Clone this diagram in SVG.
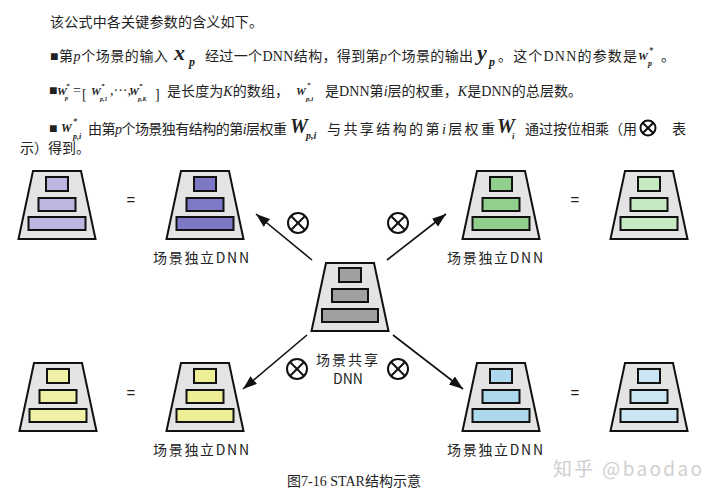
<svg xmlns="http://www.w3.org/2000/svg" width="720" height="497" viewBox="0 0 720 497">
<defs>
<style>
.t{font-family:"Liberation Serif","Noto Sans CJK SC",serif;font-size:14px;fill:#222}
.m{font-family:"Liberation Serif",serif;font-style:italic;font-weight:bold;fill:#222}
.lbl{font-family:"Noto Sans CJK SC","DejaVu Sans",sans-serif;font-size:14px;fill:#222}
.eq{font-family:"Liberation Sans",sans-serif;font-size:15px;fill:#222}
.trap{fill:#e4e4e4;stroke:#111;stroke-width:2;stroke-linejoin:miter}
.r{stroke:#111;stroke-width:2}
.p1{fill:#bcb6e0}.p2{fill:#7d79c6}
.g1{fill:#92cf8c}.g2{fill:#c6e8c2}
.y1{fill:#f1f1a6}.y2{fill:#eeee96}
.b1{fill:#acd9ee}.b2{fill:#c9e6f2}
.k{fill:#a0a0a0}
.arr{stroke:#111;stroke-width:1.6;fill:none;marker-end:url(#ah)}
.ot circle{fill:#fff;stroke:#111;stroke-width:2}
.ot line{stroke:#111;stroke-width:2}
</style>
<marker id="ah" markerUnits="userSpaceOnUse" markerWidth="16" markerHeight="12" refX="14" refY="5" orient="auto">
<path d="M0,0 L14,5 L0,10 Z" fill="#111"/>
</marker>
<path id="trapShape" d="M-24,0 L24,0 L38.5,68 L-38.5,68 Z"/>
</defs>

<!-- header text -->
<g id="text-block">
<text class="t" x="50" y="27" textLength="213" lengthAdjust="spacing">该公式中各关键参数的含义如下。</text>

<text class="t" x="50" y="61" textLength="118" lengthAdjust="spacing">■第<tspan font-style="italic">p</tspan>个场景的输入</text>
<text class="m" x="174" y="60" font-size="22">x</text>
<text class="m" x="189" y="66" font-size="12">p</text>
<text class="t" x="205" y="61" textLength="268" lengthAdjust="spacing">经过一个DNN结构，得到第<tspan font-style="italic">p</tspan>个场景的输出</text>
<text class="m" x="477" y="60" font-size="22">y</text>
<text class="m" x="489" y="66" font-size="12">p</text>
<text class="t" x="498" y="61" textLength="139" lengthAdjust="spacing">。这个DNN的参数是</text>
<text class="m" x="638" y="60" font-size="11">W</text>
<text class="m" x="649" y="53" font-size="8">*</text>
<text class="m" x="648" y="66" font-size="8">p</text>
<text class="t" x="661" y="61">。</text>

<text class="t" x="49" y="95" font-size="7">■</text>
<text class="m" x="57" y="95" font-size="11">W</text>
<text class="m" x="66" y="88" font-size="7">*</text>
<text class="m" x="65" y="100" font-size="6">p</text>
<text class="t" x="73" y="95" font-size="11">=</text>
<text class="t" x="82" y="99" font-size="19">[</text>
<text class="m" x="91" y="95" font-size="11">W</text>
<text class="m" x="101" y="88" font-size="7">*</text>
<text class="m" x="100" y="101" font-size="6">p,1</text>
<text class="t" x="110" y="95" font-size="11">,···,</text>
<text class="m" x="129" y="95" font-size="11">W</text>
<text class="m" x="139" y="88" font-size="7">*</text>
<text class="m" x="138" y="101" font-size="6">p,K</text>
<text class="t" x="155" y="99" font-size="19">]</text>
<text class="t" x="167" y="96" textLength="122" lengthAdjust="spacing">是长度为<tspan font-style="italic">K</tspan>的数组，</text>
<text class="m" x="296" y="95" font-size="11">W</text>
<text class="m" x="307" y="87" font-size="7">*</text>
<text class="m" x="306" y="101" font-size="7">p,i</text>
<text class="t" x="325" y="96" textLength="257" lengthAdjust="spacing">是DNN第<tspan font-style="italic">i</tspan>层的权重，<tspan font-style="italic">K</tspan>是DNN的总层数。</text>

<text class="t" x="49" y="133" font-size="7">■</text>
<text class="m" x="61" y="132" font-size="12">W</text>
<text class="m" x="73" y="124" font-size="8">*</text>
<text class="m" x="73" y="139" font-size="8">p,i</text>
<text class="t" x="88" y="134" textLength="199" lengthAdjust="spacing">由第<tspan font-style="italic">p</tspan>个场景独有结构的第<tspan font-style="italic">i</tspan>层权重</text>
<text class="m" x="290" y="133" font-size="20">W</text>
<text class="m" x="306" y="139" font-size="10">p,i</text>
<text class="t" x="327" y="134" textLength="168" lengthAdjust="spacing">与共享结构的第<tspan font-style="italic">i</tspan>层权重</text>
<text class="m" x="497" y="133" font-size="20">W</text>
<text class="m" x="512" y="139" font-size="9">i</text>
<text class="t" x="525" y="134" textLength="112" lengthAdjust="spacing">通过按位相乘（用</text>
<g class="ot"><circle cx="648" cy="128" r="7.5" stroke-width="1.6"/><line x1="642.7" y1="122.7" x2="653.3" y2="133.3" stroke-width="1.6"/><line x1="653.3" y1="122.7" x2="642.7" y2="133.3" stroke-width="1.6"/></g>
<text class="t" x="672" y="134">表</text>
<text class="t" x="20" y="153">示）得到。</text>
</g>

<!-- connectors -->
<g id="connectors">
<line class="arr" x1="312" y1="260" x2="256" y2="214"/>
<line class="arr" x1="387" y1="260" x2="446" y2="214"/>
<line class="arr" x1="307" y1="335" x2="243" y2="389"/>
<line class="arr" x1="393" y1="335" x2="463" y2="389"/>
<g class="ot"><circle cx="298" cy="223" r="10"/><line x1="291" y1="216" x2="305" y2="230"/><line x1="305" y1="216" x2="291" y2="230"/></g>
<g class="ot"><circle cx="398" cy="223" r="10"/><line x1="391" y1="216" x2="405" y2="230"/><line x1="405" y1="216" x2="391" y2="230"/></g>
<g class="ot"><circle cx="297" cy="369" r="10"/><line x1="290" y1="362" x2="304" y2="376"/><line x1="304" y1="362" x2="290" y2="376"/></g>
<g class="ot"><circle cx="398" cy="369" r="10"/><line x1="391" y1="362" x2="405" y2="376"/><line x1="405" y1="362" x2="391" y2="376"/></g>
</g>

<!-- nodes -->
<g id="shared-dnn" transform="translate(350,263)">
<use href="#trapShape" class="trap"/>
<rect class="r k" x="-11" y="5" width="22" height="14"/>
<rect class="r k" x="-18" y="26" width="36" height="13"/>
<rect class="r k" x="-28" y="46" width="56" height="13"/>
<text class="lbl" x="-2" y="102" text-anchor="middle" letter-spacing="2">场景共享</text>
<text class="lbl" x="-2" y="121" text-anchor="middle">DNN</text>
</g>

<g id="tl-weights" transform="translate(57,171)">
<use href="#trapShape" class="trap"/>
<rect class="r p1" x="-11" y="6" width="22" height="14"/>
<rect class="r p1" x="-18.5" y="27" width="37" height="13"/>
<rect class="r p1" x="-28.5" y="46" width="57" height="13"/>
</g>
<text class="eq" x="131" y="205" text-anchor="middle">=</text>
<g id="tl-dnn" transform="translate(205,171)">
<use href="#trapShape" class="trap"/>
<rect class="r p2" x="-11" y="6" width="22" height="14"/>
<rect class="r p2" x="-18.5" y="27" width="37" height="13"/>
<rect class="r p2" x="-28.5" y="46" width="57" height="13"/>
<text class="lbl" x="-52" y="92" textLength="96" lengthAdjust="spacing">场景独立DNN</text>
</g>

<g id="tr-dnn" transform="translate(501,171)">
<use href="#trapShape" class="trap"/>
<rect class="r g1" x="-11" y="6" width="22" height="14"/>
<rect class="r g1" x="-18.5" y="27" width="37" height="13"/>
<rect class="r g1" x="-28.5" y="46" width="57" height="13"/>
<text class="lbl" x="-54" y="92" textLength="96" lengthAdjust="spacing">场景独立DNN</text>
</g>
<text class="eq" x="575" y="205" text-anchor="middle">=</text>
<g id="tr-weights" transform="translate(649,171)">
<use href="#trapShape" class="trap"/>
<rect class="r g2" x="-11" y="6" width="22" height="14"/>
<rect class="r g2" x="-18.5" y="27" width="37" height="13"/>
<rect class="r g2" x="-28.5" y="46" width="57" height="13"/>
</g>

<g id="bl-weights" transform="translate(58,363)">
<use href="#trapShape" class="trap"/>
<rect class="r y1" x="-11" y="6" width="22" height="14"/>
<rect class="r y1" x="-18.5" y="27" width="37" height="13"/>
<rect class="r y1" x="-28.5" y="46" width="57" height="13"/>
</g>
<text class="eq" x="131" y="398" text-anchor="middle">=</text>
<g id="bl-dnn" transform="translate(205,363)">
<use href="#trapShape" class="trap"/>
<rect class="r y2" x="-11" y="6" width="22" height="14"/>
<rect class="r y2" x="-18.5" y="27" width="37" height="13"/>
<rect class="r y2" x="-28.5" y="46" width="57" height="13"/>
<text class="lbl" x="-52" y="92" textLength="96" lengthAdjust="spacing">场景独立DNN</text>
</g>

<g id="br-dnn" transform="translate(501,363)">
<use href="#trapShape" class="trap"/>
<rect class="r b1" x="-11" y="6" width="22" height="14"/>
<rect class="r b1" x="-18.5" y="27" width="37" height="13"/>
<rect class="r b1" x="-28.5" y="46" width="57" height="13"/>
<text class="lbl" x="-54" y="92" textLength="96" lengthAdjust="spacing">场景独立DNN</text>
</g>
<text class="eq" x="575" y="398" text-anchor="middle">=</text>
<g id="br-weights" transform="translate(649,363)">
<use href="#trapShape" class="trap"/>
<rect class="r b2" x="-11" y="6" width="22" height="14"/>
<rect class="r b2" x="-18.5" y="27" width="37" height="13"/>
<rect class="r b2" x="-28.5" y="46" width="57" height="13"/>
</g>

<text x="553" y="476" font-family="Noto Sans CJK SC, Liberation Sans, sans-serif" font-size="19" fill="#cfcfcf" textLength="149" lengthAdjust="spacing">知乎 @baodao</text>
<text class="t" x="354" y="486" font-size="12" text-anchor="middle">图7-16 STAR结构示意</text>
</svg>
